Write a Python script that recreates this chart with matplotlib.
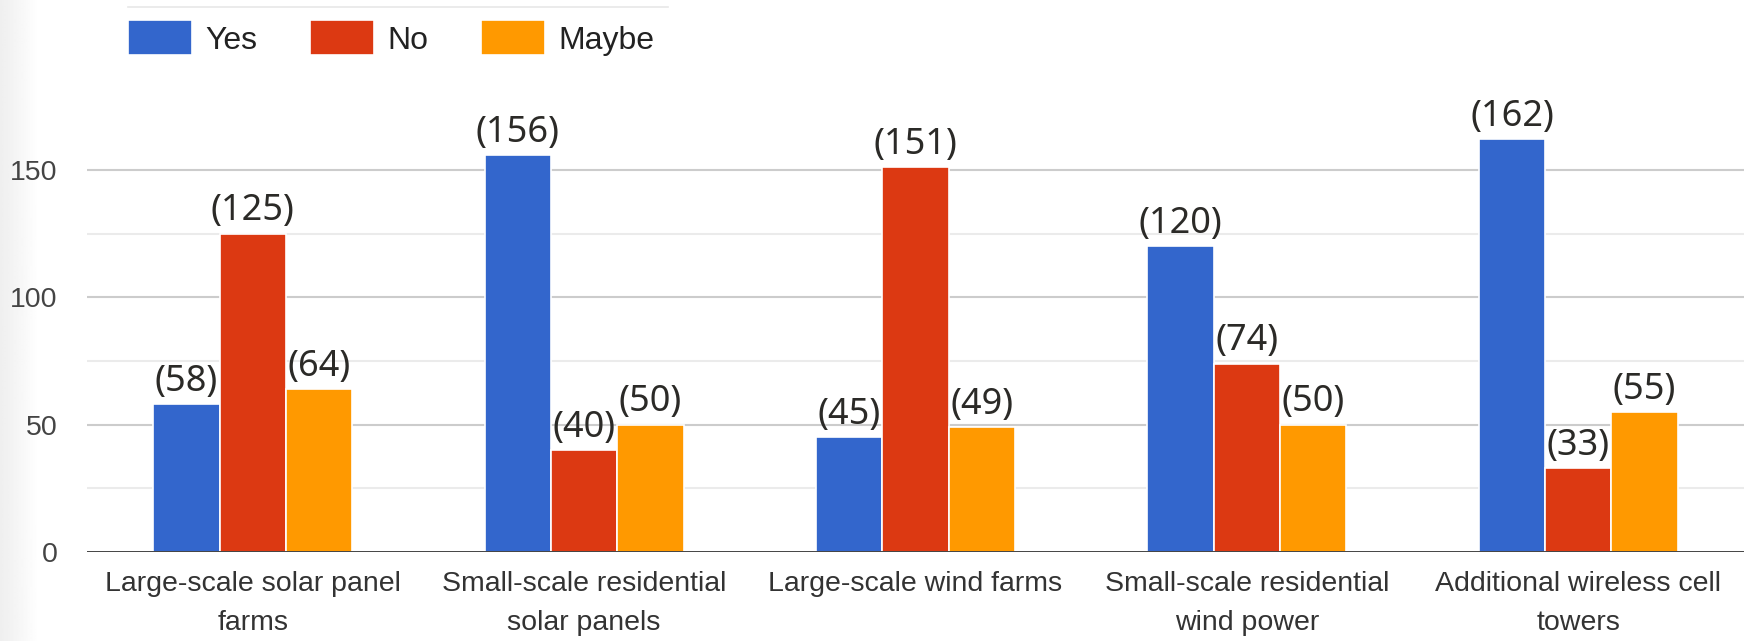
import numpy as np
import matplotlib
matplotlib.use("Agg")
import matplotlib.pyplot as plt
from matplotlib.lines import Line2D

categories = [
    "Large-scale solar panel\nfarms",
    "Small-scale residential\nsolar panels",
    "Large-scale wind farms",
    "Small-scale residential\nwind power",
    "Additional wireless cell\ntowers",
]
series_names = ["Yes", "No", "Maybe"]
yes_counts = [58, 156, 45, 120, 162]
no_counts = [125, 40, 151, 74, 33]
maybe_counts = [64, 50, 49, 50, 55]
colors = ["#3366cc", "#dc3912", "#ff9900"]
y_ticks = [0, 50, 100, 150]

W, H = 1744, 641
fig = plt.figure(figsize=(W / 100, H / 100), dpi=100)

# faint grey band on the left edge (screenshot shadow)
bg = fig.add_axes([0, 0, 1, 1], zorder=-5)
grad = np.ones((2, W))
fade = np.clip(np.arange(W) / 38.0, 0, 1)
grad[:] = 0.935 + (1 - 0.935) * fade
bg.imshow(grad, cmap="gray", vmin=0, vmax=1, aspect="auto",
          extent=[0, W, 0, H])
bg.set_xlim(0, W)
bg.set_ylim(0, H)
bg.axis("off")

left = 87 / W
bottom = 89 / H
ax = fig.add_axes([left, bottom, 1 - left, 175 * 2.547 / H])
ax.set_facecolor("none")

x = np.arange(len(categories))
width = 0.2
all_series = [yes_counts, no_counts, maybe_counts]
bars = []
for i, (vals, name, col) in enumerate(zip(all_series, series_names, colors)):
    b = ax.bar(x + (i - 1) * width, vals, width, color=col, label=name,
               edgecolor="white", linewidth=1.2, zorder=3)
    bars.append(b)
    for xi, v in zip(x + (i - 1) * width, vals):
        ax.annotate("({})".format(v), (xi, v), xytext=(0, 3),
                    textcoords="offset points", ha="center", va="bottom",
                    fontsize=26, family="Noto Sans", color="#2b2a27",
                    zorder=4)

ax.set_xlim(-0.5, len(categories) - 0.5)
ax.set_ylim(0, 175)

# grid lines: major every 50, minor every 25
for yv in [25, 75, 125]:
    ax.axhline(yv, color="#ebebeb", lw=1.5, zorder=1)
for yv in [50, 100, 150]:
    ax.axhline(yv, color="#cccccc", lw=1.5, zorder=1)
ax.axhline(0, color="#333333", lw=2, zorder=5)

for s in ax.spines.values():
    s.set_visible(False)

ax.set_yticks(y_ticks)
ax.set_yticklabels([str(t) for t in y_ticks], fontsize=20.5,
                   family="Liberation Sans", color="#444444")
ax.tick_params(axis="y", length=0, pad=21)
ax.set_xticks(x)
ax.set_xticklabels(categories, fontsize=20.5, family="Liberation Sans",
                   color="#333333", linespacing=1.62)
ax.tick_params(axis="x", length=0, pad=14)

leg = fig.legend(handles=bars, labels=series_names, loc="center left",
                 bbox_to_anchor=(128 / W, 1 - 38 / H), ncol=3, frameon=False,
                 prop={"family": "Liberation Sans", "size": 23},
                 handlelength=2.0, handleheight=1.3, handletextpad=0.42,
                 columnspacing=1.65, borderpad=0, borderaxespad=0)
for t in leg.get_texts():
    t.set_color("#222222")

fig.add_artist(Line2D([128 / W, 668 / W], [1 - 7 / H, 1 - 7 / H],
                      color="#e8e8e8", lw=1.2))

fig.savefig("out.png", dpi=100, facecolor="white")
